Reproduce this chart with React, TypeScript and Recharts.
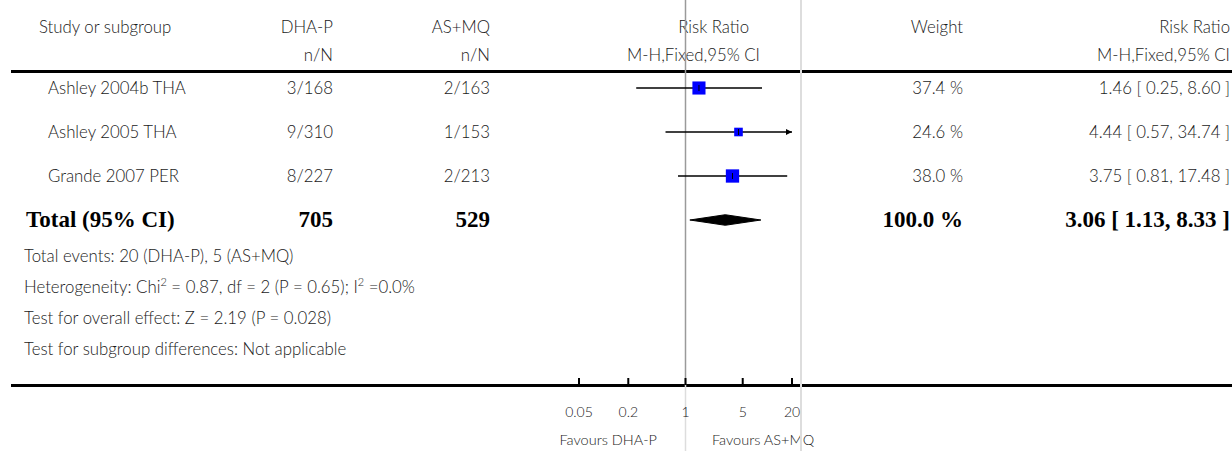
import React from "react";
import {
  ComposedChart,
  XAxis,
  YAxis,
  Scatter,
  Area,
  ReferenceLine,
} from "recharts";

// study rows
const studies = ["Ashley 2004b THA", "Ashley 2005 THA", "Grande 2007 PER"];
const dhapEvents = [3, 9, 8];
const dhapTotals = [168, 310, 227];
const asmqEvents = [2, 1, 2];
const asmqTotals = [163, 153, 213];
const weights = [37.4, 24.6, 38.0];
const riskRatios = [1.46, 4.44, 3.75];
const ciLower = [0.25, 0.57, 0.81];
const ciUpper = [8.6, 34.74, 17.48];

// pooled result
const totalDhap = 705;
const totalAsmq = 529;
const totalWeight = 100.0;
const totalRR = 3.06;
const totalLower = 1.13;
const totalUpper = 8.33;

const xTicks = [0.05, 0.2, 1, 5, 20];
const X_MIN = 0.05;
const X_MAX = 20;

// layout
const W = 1232;
const H = 451;
const PLOT_LEFT = 579;
const PLOT_RIGHT = 792;
const AXIS_Y = 385;
const ROW0 = 88;
const ROW_STEP = 44;
const Y_MIN = -ROW0 / ROW_STEP;
const Y_MAX = (AXIS_Y - ROW0) / ROW_STEP;
const Y_BOTTOM = (H - ROW0) / ROW_STEP;
const SQUARE_SCALE = 0.35;
const DIAMOND_HALF = 0.12;

const rowY = (i: number) => ROW0 + ROW_STEP * i;
const ci = (r: number, l: number, u: number) =>
  `${r.toFixed(2)} [ ${l.toFixed(2)}, ${u.toFixed(2)} ]`;

const squares = studies.map((s, i) => ({ x: riskRatios[i], y: i, weight: weights[i] }));
const totalRow = studies.length;
const diamond = [
  { x: totalLower, band: [totalRow, totalRow] },
  { x: totalRR, band: [totalRow - DIAMOND_HALF, totalRow + DIAMOND_HALF] },
  { x: totalUpper, band: [totalRow, totalRow] },
];

const SANS = "Lato, 'DejaVu Sans', sans-serif";
const SERIF = "'Liberation Serif', serif";
const supStyle: React.CSSProperties = { fontSize: 11, lineHeight: 0, verticalAlign: "super" };

function Txt({
  x,
  y,
  align = "left",
  size = 16.8,
  bold = false,
  children,
}: {
  x: number;
  y: number;
  align?: "left" | "right";
  size?: number;
  bold?: boolean;
  children: React.ReactNode;
}) {
  const style: React.CSSProperties = {
    position: "absolute",
    top: y - 12,
    height: 24,
    lineHeight: "24px",
    fontSize: size,
    whiteSpace: "nowrap",
    color: bold ? "#000" : "#1a1a1a",
    fontFamily: bold ? SERIF : SANS,
    fontWeight: bold ? 700 : 300,
  };
  if (align === "right") style.right = W - x;
  else style.left = x;
  return <div style={style}>{children}</div>;
}

function AxisTick(props: any) {
  const { x, y, payload } = props;
  return (
    <g>
      <line x1={x} x2={x} y1={y - 7} y2={y} stroke="#000" strokeWidth={2} />
      <text
        x={x}
        y={y + 26}
        textAnchor="middle"
        dominantBaseline="central"
        fontSize={14}
        fontWeight={300}
        fontFamily={SANS}
        fill="#1a1a1a"
      >
        {payload.value}
      </text>
    </g>
  );
}

function WeightSquare(props: any) {
  const { cx, cy, payload } = props;
  const s = payload.weight * SQUARE_SCALE;
  return (
    <g>
      <rect x={cx - s / 2} y={cy - s / 2} width={s} height={s} fill="#0000ff" />
      <line x1={cx} x2={cx} y1={cy - 3} y2={cy + 3} stroke="#000" strokeWidth={1} />
    </g>
  );
}

function ArrowLine(props: any) {
  const { x1, y1, x2, y2 } = props;
  return (
    <g>
      <line x1={x1} y1={y1} x2={x2} y2={y2} stroke="#000" strokeWidth={1.5} />
      <polygon points={`${x2},${y2} ${x2 - 6},${y2 - 3} ${x2 - 6},${y2 + 3}`} fill="#000" />
    </g>
  );
}

export default function App() {
  return (
    <div style={{ position: "relative", width: W, height: H, overflow: "hidden", background: "#fff" }}>
      <style>{`body{margin:0}`}</style>

      {/* header */}
      <Txt x={39} y={27}>Study or subgroup</Txt>
      <Txt x={333} y={27} align="right">DHA-P</Txt>
      <Txt x={490} y={27} align="right">AS+MQ</Txt>
      <Txt x={749} y={27} align="right">Risk Ratio</Txt>
      <Txt x={963} y={27} align="right">Weight</Txt>
      <Txt x={1230} y={27} align="right">Risk Ratio</Txt>
      <Txt x={333} y={55} align="right">n/N</Txt>
      <Txt x={490} y={55} align="right">n/N</Txt>
      <Txt x={760} y={55} align="right">M-H,Fixed,95% CI</Txt>
      <Txt x={1230} y={55} align="right">M-H,Fixed,95% CI</Txt>

      {/* study rows */}
      {studies.map((s, i) => (
        <React.Fragment key={s}>
          <Txt x={48} y={rowY(i)}>{s}</Txt>
          <Txt x={333} y={rowY(i)} align="right">{`${dhapEvents[i]}/${dhapTotals[i]}`}</Txt>
          <Txt x={490} y={rowY(i)} align="right">{`${asmqEvents[i]}/${asmqTotals[i]}`}</Txt>
          <Txt x={963} y={rowY(i)} align="right">{`${weights[i].toFixed(1)} %`}</Txt>
          <Txt x={1230} y={rowY(i)} align="right">{ci(riskRatios[i], ciLower[i], ciUpper[i])}</Txt>
        </React.Fragment>
      ))}

      {/* total row */}
      <Txt x={26} y={rowY(totalRow)} size={23} bold>Total (95% CI)</Txt>
      <Txt x={333} y={rowY(totalRow)} align="right" size={23} bold>{totalDhap}</Txt>
      <Txt x={490} y={rowY(totalRow)} align="right" size={23} bold>{totalAsmq}</Txt>
      <Txt x={963} y={rowY(totalRow)} align="right" size={23} bold>{`${totalWeight.toFixed(1)} %`}</Txt>
      <Txt x={1230} y={rowY(totalRow)} align="right" size={23} bold>{ci(totalRR, totalLower, totalUpper)}</Txt>

      {/* footnotes */}
      <Txt x={24} y={256}>
        {`Total events: ${dhapEvents.reduce((a, b) => a + b, 0)} (DHA-P), ${asmqEvents.reduce((a, b) => a + b, 0)} (AS+MQ)`}
      </Txt>
      <Txt x={24} y={287}>
        Heterogeneity: Chi<span style={supStyle}>2</span> = 0.87, df = 2 (P = 0.65); I<span style={supStyle}>2</span> =0.0%
      </Txt>
      <Txt x={24} y={318}>Test for overall effect: Z = 2.19 (P = 0.028)</Txt>
      <Txt x={24} y={349}>Test for subgroup differences: Not applicable</Txt>

      <Txt x={657} y={440} align="right" size={14.5}>Favours DHA-P</Txt>
      <Txt x={712} y={440} size={14.5}>Favours AS+MQ</Txt>

      {/* rules and panel border */}
      <div style={{ position: "absolute", left: 11, top: 70, width: W - 11, height: 3, background: "#000" }} />
      <div style={{ position: "absolute", left: 11, top: AXIS_Y - 1, width: W - 11, height: 3, background: "#000" }} />
      <div style={{ position: "absolute", left: 800, top: 0, width: 2, height: H, background: "#dddddd" }} />

      <div style={{ position: "absolute", left: 0, top: 0 }}>
        <ComposedChart
          width={W}
          height={H}
          margin={{ top: 0, right: W - PLOT_RIGHT, bottom: 0, left: PLOT_LEFT }}
        >
          <XAxis
            dataKey="x"
            type="number"
            scale="log"
            domain={[X_MIN, X_MAX]}
            ticks={xTicks}
            interval={0}
            allowDataOverflow
            height={H - AXIS_Y}
            axisLine={false}
            tickLine={false}
            tickSize={0}
            tickMargin={0}
            tick={<AxisTick />}
          />
          <YAxis dataKey="y" type="number" domain={[Y_MIN, Y_MAX]} reversed hide allowDataOverflow />
          <ReferenceLine x={1} stroke="#9a9a9a" strokeWidth={1.5} />
          <ReferenceLine
            segment={[{ x: 1, y: Y_MAX }, { x: 1, y: Y_BOTTOM }]}
            stroke="#dddddd"
            strokeWidth={1.5}
            ifOverflow="visible"
          />
          {studies.map((s, i) => (
            <ReferenceLine
              key={s}
              segment={[
                { x: ciLower[i], y: i },
                { x: Math.min(ciUpper[i], X_MAX), y: i },
              ]}
              stroke="#000"
              strokeWidth={1.5}
              ifOverflow="visible"
              shape={ciUpper[i] > X_MAX ? ArrowLine : undefined}
            />
          ))}
          <Scatter data={squares} shape={WeightSquare} isAnimationActive={false} />
          <Area
            data={diamond}
            dataKey="band"
            type="linear"
            fill="#000"
            fillOpacity={1}
            stroke="#000"
            isAnimationActive={false}
          />
        </ComposedChart>
      </div>
    </div>
  );
}
